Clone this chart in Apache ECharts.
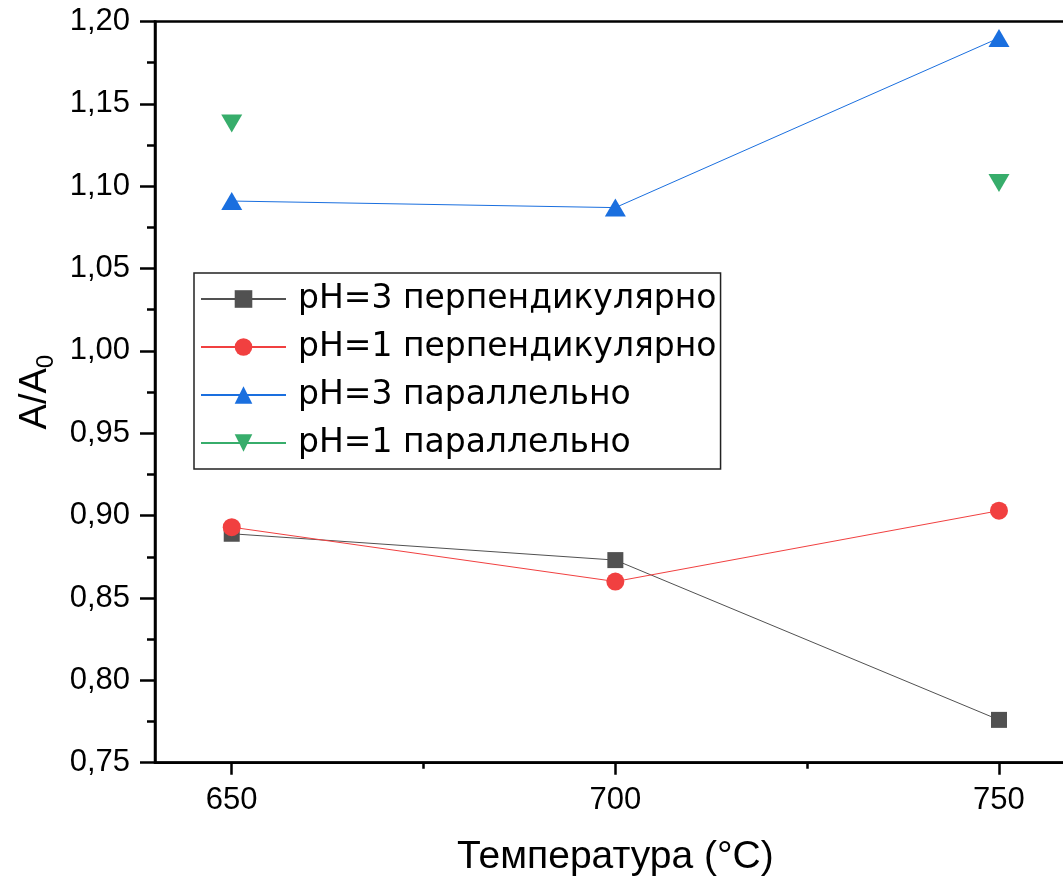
<!DOCTYPE html>
<html>
<head>
<meta charset="utf-8">
<script src="https://cdn.jsdelivr.net/npm/echarts@6/dist/echarts.min.js"></script>
<style>
html,body{margin:0;padding:0;background:#fff;}
#chart{width:1063px;height:881px;}
</style>
</head>
<body>
<div id="chart"></div>
<script>
// Temperatures (°C)
const temperatures = [650, 700, 750];
// Series values A/A0
const ph3Perp = [0.889, 0.873, 0.776];
const ph1Perp = [0.893, 0.860, 0.903];
const ph3Par  = [1.091, 1.087, 1.190];
const ph1Par  = [1.138, null, 1.102];
const seriesNames = ['pH=3 перпендикулярно', 'pH=1 перпендикулярно', 'pH=3 параллельно', 'pH=1 параллельно'];
const xTickLabels = [650, 700, 750];
const xMinorTicks = [675, 725];

const FONT = 'Liberation Sans, Arial, sans-serif';

function pairs(vals) {
  return temperatures.map((t, i) => [t, vals[i]]);
}

const chart = echarts.init(document.getElementById('chart'), null, {renderer: 'canvas'});

const option = {
  animation: false,
  backgroundColor: '#ffffff',
  grid: {
    left: 155, top: 21.5, width: 920.7, height: 741.2,
    outerBoundsMode: 'none', containLabel: false,
    show: true, borderColor: '#000', borderWidth: 2.5, backgroundColor: 'transparent'
  },
  legend: {
    orient: 'vertical',
    left: 194, top: 273,
    padding: [2, 4, 2, 6],
    itemGap: 0,
    itemWidth: 85,
    itemHeight: 22,
    borderColor: '#222',
    borderWidth: 1.5,
    selectedMode: false,
    textStyle: {fontFamily: 'DejaVu Sans', fontSize: 33, color: '#000', lineHeight: 48, padding: [0, 0, 0, 7]},
    data: seriesNames
  },
  xAxis: [{
    type: 'value', min: 640, max: 760,
    name: 'Температура (°C)', nameLocation: 'middle', nameGap: 75,
    nameTextStyle: {fontFamily: FONT, fontSize: 39, color: '#000'},
    axisLine: {show: true, lineStyle: {color: '#000', width: 2.5}},
    axisTick: {show: true, customValues: xTickLabels, length: 12, lineStyle: {color: '#000', width: 2.5}},
    axisLabel: {show: true, customValues: xTickLabels, margin: 22, fontFamily: FONT, fontSize: 31, color: '#000'},
    splitLine: {show: false}
  }, {
    type: 'value', min: 640, max: 760, position: 'bottom', gridIndex: 0,
    axisLine: {show: false},
    axisTick: {show: true, customValues: xMinorTicks, length: 6, lineStyle: {color: '#000', width: 2.5}},
    axisLabel: {show: false},
    splitLine: {show: false}
  }],
  yAxis: {
    type: 'value', min: 0.75, max: 1.20, interval: 0.05,
    name: '{a|A/A}{s|0}', nameLocation: 'middle', nameGap: 96, nameRotate: 90,
    nameTextStyle: {
      color: '#000',
      rich: {
        a: {fontFamily: FONT, fontSize: 38, color: '#000', lineHeight: 46},
        s: {fontFamily: FONT, fontSize: 24, color: '#000', lineHeight: 46, verticalAlign: 'bottom', padding: [26, 0, 0, 0]}
      }
    },
    axisLine: {show: true, lineStyle: {color: '#000', width: 2.5}},
    axisTick: {show: true, length: 15, lineStyle: {color: '#000', width: 2.5}},
    minorTick: {show: true, splitNumber: 2, length: 8, lineStyle: {color: '#000', width: 2.5}},
    axisLabel: {
      margin: 25, fontFamily: FONT, fontSize: 31, color: '#000',
      formatter: v => v.toFixed(2).replace('.', ',')
    },
    splitLine: {show: false},
    minorSplitLine: {show: false}
  },
  series: [{
    name: seriesNames[0], type: 'line', data: pairs(ph3Perp),
    symbol: 'rect', symbolSize: 16,
    itemStyle: {color: '#515151'}, lineStyle: {color: '#515151', width: 1},
    emphasis: {disabled: true}
  }, {
    name: seriesNames[1], type: 'line', data: pairs(ph1Perp),
    symbol: 'circle', symbolSize: 18,
    itemStyle: {color: '#F14040'}, lineStyle: {color: '#F14040', width: 1},
    emphasis: {disabled: true}
  }, {
    name: seriesNames[2], type: 'line', data: pairs(ph3Par),
    symbol: 'triangle', symbolSize: [21, 18],
    itemStyle: {color: '#1A6FDF'}, lineStyle: {color: '#1A6FDF', width: 1},
    emphasis: {disabled: true}
  }, {
    name: seriesNames[3], type: 'line', data: pairs(ph1Par), connectNulls: false,
    symbol: 'triangle', symbolRotate: 180, symbolSize: [21, 18],
    itemStyle: {color: '#37AD6B'}, lineStyle: {color: '#37AD6B', width: 1},
    emphasis: {disabled: true}
  }]
};

chart.setOption(option);
</script>
</body>
</html>
